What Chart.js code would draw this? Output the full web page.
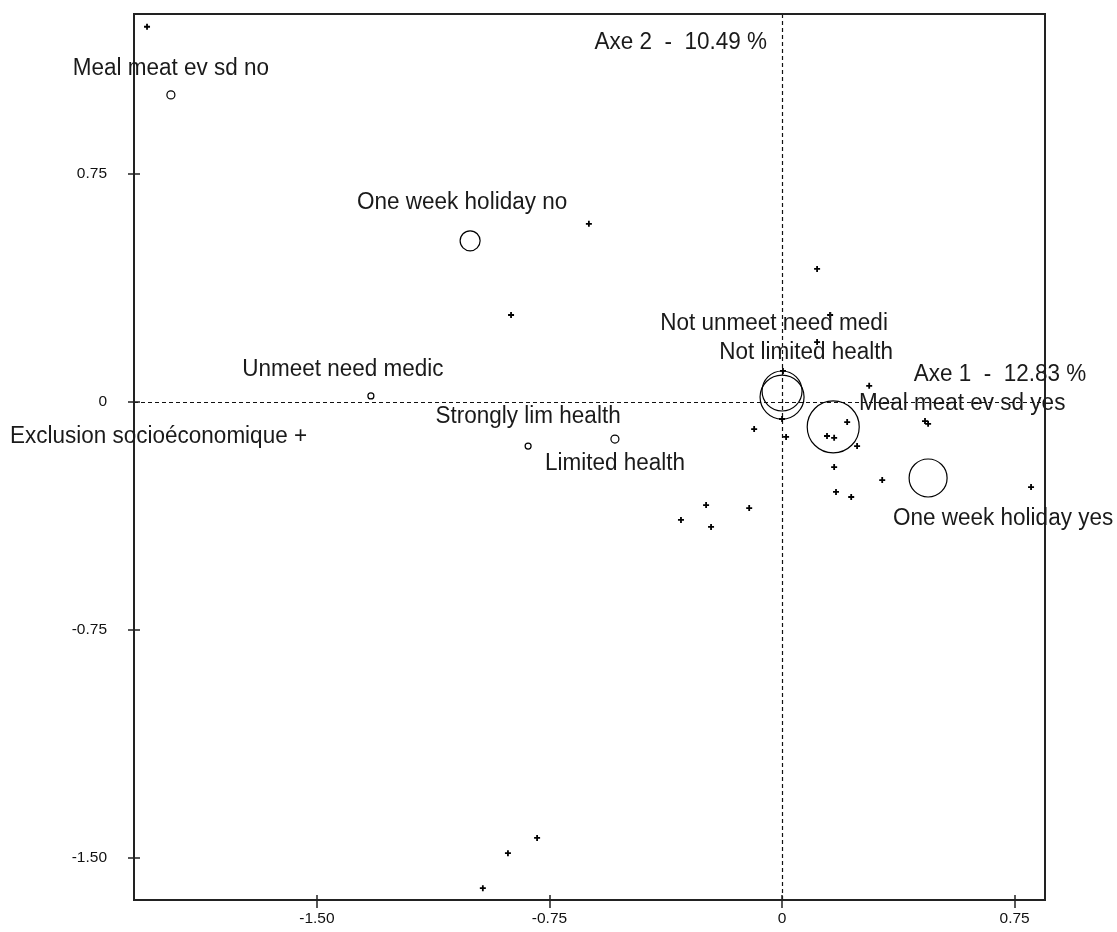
<html lang="fr">
<head>
  <meta charset="UTF-8">
  <title>Exclusion socioéconomique - plan factoriel</title>
  <style>
    body {
      margin: 0;
      padding: 0;
      background-color: #fff;
    }
    #plan {
      position: absolute;
      left: 0;
      top: 0;
    }
  </style>
</head>
<body>
  <canvas id="plan" width="1117" height="932"></canvas>

  <script src="https://cdn.jsdelivr.net/npm/chart.js"></script>
  <script>
    // modalites actives (libelle, coordonnees sur axe 1 / axe 2, poids)
    const modalityLabels = [
      'Meal meat ev sd no', 'One week holiday no', 'Unmeet need medic',
      'Strongly lim health', 'Limited health', 'Not unmeet need medi',
      'Not limited health', 'Meal meat ev sd yes', 'One week holiday yes'
    ];
    const modalityAxe1 = [-1.971, -1.006, -1.326, -0.819, -0.539, 0.0, 0.0, 0.165, 0.471];
    const modalityAxe2 = [1.010, 0.530, 0.020, -0.145, -0.122, 0.036, 0.016, -0.082, -0.250];
    const modalityWeight = [0.8, 2.0, 0.6, 0.6, 0.8, 4.0, 4.4, 5.2, 3.8];

    // individus / points supplementaires (+)
    const suppAxe1 = [
      -2.048, -0.623, -0.874, 0.113, 0.155, 0.113, 0.281, 0.003, 0.0, -0.090,
      0.013, 0.210, 0.145, 0.168, 0.242, 0.461, 0.471, 0.168, 0.323, 0.174,
      0.223, 0.803, -0.245, -0.106, -0.229, -0.326, -0.790, -0.884, -0.965
    ];
    const suppAxe2 = [
      1.234, 0.586, 0.286, 0.4375, 0.286, 0.197, 0.053, 0.102, -0.056, -0.089,
      -0.115, -0.066, -0.112, -0.118, -0.145, -0.063, -0.072, -0.214, -0.257, -0.296,
      -0.3125, -0.280, -0.339, -0.349, -0.411, -0.388, -1.434, -1.484, -1.599
    ];

    const xTicks = [-1.5, -0.75, 0, 0.75];
    const yTicks = [-1.5, -0.75, 0, 0.75];
    const tickText = { '-1.5': '-1.50', '-0.75': '-0.75', '0': '0', '0.75': '0.75' };

    const axe1Title = 'Axe 1  -  12.83 %';
    const axe2Title = 'Axe 2  -  10.49 %';
    const groupTitle = 'Exclusion socioéconomique +';

    const FONT = '"Liberation Sans", Arial, sans-serif';

    // decalage des libelles par rapport au point (en pixels)
    const labelShift = [
      [0, -27], [-8, -39], [-28, -27], [0, -30], [0, 24],
      [-8, -68], [24, -45], [129, -24], [75, 40]
    ];

    function drawText(ctx, txt, x, y, align) {
      ctx.save();
      ctx.translate(x, y);
      ctx.scale(1, 1.09);
      ctx.textAlign = align || 'center';
      ctx.textBaseline = 'middle';
      ctx.fillText(txt, 0, 0);
      ctx.restore();
    }

    const planPlugin = {
      id: 'planPlugin',
      beforeDatasetsDraw(chart) {
        const ctx = chart.ctx;
        const area = chart.chartArea;
        const xs = chart.scales.x;
        const ys = chart.scales.y;
        const x0 = Math.round(xs.getPixelForValue(0)) + 0.5;
        const y0 = Math.round(ys.getPixelForValue(0)) + 0.5;
        ctx.save();
        ctx.strokeStyle = '#111';
        ctx.lineWidth = 1.2;
        ctx.setLineDash([4, 3]);
        ctx.beginPath();
        ctx.moveTo(x0, area.top);
        ctx.lineTo(x0, area.bottom);
        ctx.moveTo(area.left, y0);
        ctx.lineTo(area.right, y0);
        ctx.stroke();
        ctx.restore();
      },
      afterDatasetsDraw(chart) {
        const ctx = chart.ctx;
        const area = chart.chartArea;
        const xs = chart.scales.x;
        const ys = chart.scales.y;

        ctx.save();
        // cadre
        ctx.strokeStyle = '#222';
        ctx.lineWidth = 2;
        ctx.strokeRect(area.left, area.top, area.right - area.left, area.bottom - area.top);

        // graduations qui traversent le cadre
        ctx.lineWidth = 1.5;
        ctx.beginPath();
        xTicks.forEach(v => {
          const px = Math.round(xs.getPixelForValue(v));
          ctx.moveTo(px, area.bottom - 5);
          ctx.lineTo(px, area.bottom + 8);
        });
        yTicks.forEach(v => {
          const py = Math.round(ys.getPixelForValue(v));
          ctx.moveTo(area.left - 6, py);
          ctx.lineTo(area.left + 6, py);
        });
        ctx.stroke();

        // libelles des modalites
        ctx.fillStyle = '#1a1a1a';
        ctx.font = '22.5px ' + FONT;
        modalityLabels.forEach((lab, i) => {
          const px = xs.getPixelForValue(modalityAxe1[i]) + labelShift[i][0];
          const py = ys.getPixelForValue(modalityAxe2[i]) + labelShift[i][1];
          drawText(ctx, lab, px, py, 'center');
        });

        // titres des axes
        drawText(ctx, axe2Title, xs.getPixelForValue(0) - 15, area.top + 28, 'right');
        drawText(ctx, axe1Title, area.right - 45, ys.getPixelForValue(0) - 28, 'center');
        drawText(ctx, groupTitle, 10, ys.getPixelForValue(0) + 34, 'left');
        ctx.restore();
      }
    };

    const ctx = document.getElementById('plan').getContext('2d');
    const planChart = new Chart(ctx, {
      type: 'scatter',
      data: {
        datasets: [
          {
            label: 'supp',
            data: suppAxe1.map((v, i) => ({ x: v, y: suppAxe2[i] })),
            pointStyle: 'cross',
            pointRadius: 3,
            borderColor: '#000',
            borderWidth: 1.8
          },
          {
            label: 'modalites',
            data: modalityAxe1.map((v, i) => ({ x: v, y: modalityAxe2[i] })),
            pointStyle: 'circle',
            pointRadius: modalityWeight.map(w => w * 5),
            borderColor: '#000',
            backgroundColor: 'rgba(255,255,255,0)',
            borderWidth: 1.2
          }
        ]
      },
      options: {
        responsive: false,
        animation: false,
        devicePixelRatio: 1,
        layout: { autoPadding: false, padding: { top: 14, right: 72, left: 0, bottom: 0 } },
        plugins: {
          legend: { display: false },
          tooltip: { enabled: false }
        },
        scales: {
          x: {
            type: 'linear',
            min: -2.09,
            max: 0.848,
            grid: { display: false },
            border: { display: false },
            afterBuildTicks: s => { s.ticks = xTicks.map(v => ({ value: v })); },
            afterFit: s => { s.height = 32; s.paddingLeft = 0; s.paddingRight = 0; },
            ticks: {
              color: '#111',
              padding: 1,
              maxRotation: 0,
              font: { family: FONT, size: 15.5 },
              callback: v => tickText[String(v)]
            }
          },
          y: {
            type: 'linear',
            min: -1.638,
            max: 1.276,
            grid: { display: false },
            border: { display: false },
            afterBuildTicks: s => { s.ticks = yTicks.map(v => ({ value: v })); },
            afterFit: s => { s.width = 134; s.paddingTop = 0; s.paddingBottom = 0; },
            ticks: {
              color: '#111',
              padding: 19,
              font: { family: FONT, size: 15.5 },
              callback: v => tickText[String(v)]
            }
          }
        }
      },
      plugins: [planPlugin]
    });
  </script>
</body>
</html>
